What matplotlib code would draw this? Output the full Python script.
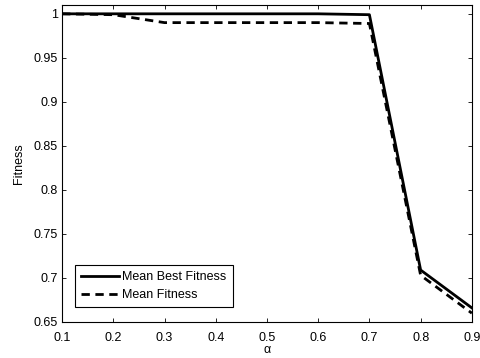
import matplotlib
matplotlib.use('Agg')
import matplotlib.pyplot as plt

alpha = [0.1, 0.2, 0.3, 0.4, 0.5, 0.6, 0.7, 0.8, 0.9]
mean_best = [1.0, 1.0, 1.0, 1.0, 1.0, 1.0, 0.999, 0.709, 0.666]
mean_fit = [1.0, 0.999, 0.99, 0.99, 0.99, 0.99, 0.989, 0.703, 0.660]

plt.rcParams['font.family'] = ['Liberation Sans', 'DejaVu Sans']
plt.rcParams['font.size'] = 9

fig = plt.figure(figsize=(4.81, 3.58), dpi=100)
ax = fig.add_axes([0.129, 0.1006, 0.852, 0.8854])

ax.plot(alpha, mean_best, color='black', lw=2, label='Mean Best Fitness')
ax.plot(alpha, mean_fit, color='black', lw=2, ls=(0, (3, 2)), label='Mean Fitness')

ax.set_xlim(0.1, 0.9)
ax.set_ylim(0.65, 1.01)
ax.set_xticks(alpha)
ax.set_xticklabels([f'{a:g}' for a in alpha])
yt = [0.65, 0.7, 0.75, 0.8, 0.85, 0.9, 0.95, 1.0]
ax.set_yticks(yt)
ax.set_yticklabels([f'{v:g}' for v in yt])
ax.tick_params(direction='in', top=True, right=True, length=3, width=0.6, pad=3)
ax.tick_params(axis='x', pad=7)
for s in ax.spines.values():
    s.set_linewidth(0.8)

ax.set_xlabel('α', labelpad=0)
ax.set_ylabel('Fitness', labelpad=6)

leg = ax.legend(loc='lower left', bbox_to_anchor=(0.022, 0.035), fancybox=False,
                edgecolor='black', framealpha=1, handlelength=3.0, borderpad=0.5,
                labelspacing=0.45, handletextpad=0.3, borderaxespad=0.3)
leg.get_frame().set_linewidth(0.8)

fig.savefig('out.png', dpi=100)
